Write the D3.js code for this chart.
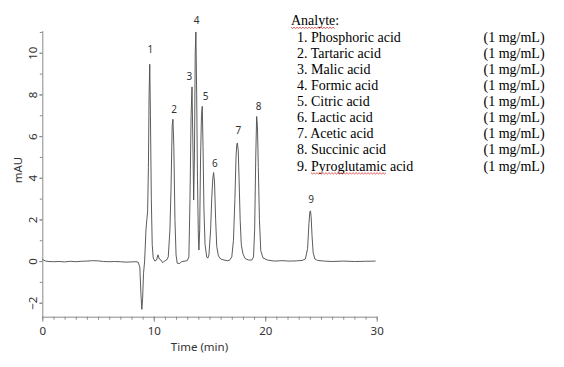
<!DOCTYPE html>
<html>
<head>
<meta charset="utf-8">
<script src="https://cdn.jsdelivr.net/npm/d3@7"></script>
<style>
  body { margin: 0; background: #fff; }
  svg { display: block; }
</style>
</head>
<body>
<div id="main"></div>
<script>
// chromatogram of 9 organic acids, trace

// trace: retention time (min) and response (mAU)
var traceTime = [0, 0.3, 0.6, 1, 1.5, 2, 2.5, 3, 3.5, 4, 4.5, 5, 5.5, 6, 6.5, 7, 7.5, 8, 8.4, 8.6,
  8.75, 8.85, 8.93, 9.0, 9.08, 9.18, 9.3, 9.38, 9.45, 9.52, 9.58, 9.64, 9.7, 9.78, 9.86, 9.95,
  10.1, 10.25, 10.38, 10.5, 10.65, 10.8, 10.95, 11.15, 11.3, 11.45, 11.55, 11.65, 11.72, 11.8, 11.9,
  12.0, 12.1, 12.3, 12.5, 12.8, 13.0, 13.15, 13.25, 13.35, 13.43, 13.5, 13.58, 13.65, 13.72, 13.78,
  13.85, 13.92, 14.0, 14.05, 14.12, 14.2, 14.28, 14.35, 14.42, 14.5, 14.6, 14.75, 14.85, 14.95,
  15.1, 15.2, 15.3, 15.37, 15.45, 15.55, 15.65, 15.8, 16.0, 16.3, 16.6, 16.8, 17.0, 17.15, 17.28,
  17.38, 17.45, 17.5, 17.58, 17.65, 17.75, 17.85, 18.0, 18.2, 18.5, 18.8, 18.95, 19.05, 19.15,
  19.23, 19.3, 19.38, 19.48, 19.6, 19.8, 20.2, 20.8, 21.5, 22.2, 22.8, 23.3, 23.6, 23.8, 23.92,
  24.0, 24.06, 24.12, 24.2, 24.3, 24.45, 24.7, 25.3, 26, 27, 28, 29, 29.9];
var traceMAU = [0.08, 0.0, -0.02, -0.03, -0.02, -0.04, -0.01, -0.03, -0.01, 0.0, 0.02, 0.01, -0.02, -0.03, -0.02, -0.03, -0.05, -0.04, -0.03, -0.05,
  -0.3, -1.6, -2.32, -1.8, -0.6, 0.0, 1.5, 2.0, 2.4, 4.5, 8.0, 9.45, 7.0, 3.0, 0.8, 0.15,
  0.0, 0.05, 0.3, 0.1, 0.05, -0.08, 0.0, 0.05, 0.2, 1.5, 3.5, 6.5, 6.81, 5.5, 2.0,
  0.3, -0.1, -0.12, -0.03, 0.0, 0.02, 0.2, 3.0, 7.0, 8.36, 6.0, 2.93, 5.0, 10.0, 11.0,
  8.0, 4.0, 1.2, 0.53, 1.5, 5.0, 7.0, 7.43, 5.5, 2.5, 0.8, 0.2, 0.14, 0.3,
  1.5, 3.0, 4.0, 4.25, 3.8, 2.0, 0.7, 0.25, 0.1, 0.05, 0.02, 0.04, 0.2, 1.0, 3.0,
  5.0, 5.6, 5.67, 5.3, 4.0, 2.0, 0.8, 0.35, 0.12, 0.05, 0.05, 0.2, 1.5, 5.0,
  6.94, 6.5, 4.5, 2.0, 0.5, 0.15, 0.05, 0.0, 0.02, 0.0, 0.01, 0.03, 0.1, 0.6, 1.8,
  2.35, 2.41, 2.1, 1.2, 0.4, 0.1, 0.03, 0.0, -0.02, 0.0, -0.02, -0.01, 0.0];

// peak apexes (number, time, height)
var peakNo = ['1', '2', '3', '4', '5', '6', '7', '8', '9'];
var peakTime = [9.64, 11.72, 13.43, 13.78, 14.35, 15.37, 17.5, 19.23, 24.06];
var peakMAU = [9.45, 6.81, 8.36, 11.0, 7.43, 4.25, 5.67, 6.94, 2.41];

// legend
var analytes = ['Phosphoric acid', 'Tartaric acid', 'Malic acid', 'Formic acid', 'Citric acid',
  'Lactic acid', 'Acetic acid', 'Succinic acid', 'Pyroglutamic acid'];
var conc = ['(1 mg/mL)', '(1 mg/mL)', '(1 mg/mL)', '(1 mg/mL)', '(1 mg/mL)',
  '(1 mg/mL)', '(1 mg/mL)', '(1 mg/mL)', '(1 mg/mL)'];

var xTicks = [0, 10, 20, 30],
    yTicks = [-2, 0, 2, 4, 6, 8, 10];

// layout
var width = 564, height = 367;
var axisCol = '#8a8a8a', textCol = '#333',
    chartFont = '"Noto Sans", "Open Sans", sans-serif',
    docFont = '"Liberation Serif", "Times New Roman", serif',
    tickSize = 11.5;

// nudges for the peak numbers, px (label sits above each apex)
var labelDx = [0.5, 1.3, -2.7, 0.7, 3.4, 1.3, 1, 2, 0.7],
    labelDy = [-15, -10, -10.5, -11.5, -10, -9.5, -13, -11, -11.5];

var svg = d3.select('#main').append('svg')
  .attr('width', width)
  .attr('height', height);

var x = d3.scaleLinear().domain([0, 30]).range([42.3, 376.7]);
var y = d3.scaleLinear().domain([-2.67, 11.07]).range([316.7, 30.5]);

// x axis
var xAxis = svg.append('g')
  .attr('transform', 'translate(0,' + y.range()[0] + ')');

xAxis.append('g')
  .call(d3.axisBottom(x).tickValues(d3.range(0, 31, 1)).tickSize(3).tickFormat(''))
  .call(function(g) { g.select('.domain').remove(); });

xAxis.append('g')
  .call(d3.axisBottom(x).tickValues(xTicks).tickSize(5).tickSizeOuter(0).tickPadding(5))
  .call(function(g) {
    g.selectAll('text').attr('font-size', tickSize).attr('font-family', chartFont).attr('fill', textCol);
  });

xAxis.selectAll('line, path').attr('stroke', axisCol);

// y axis
var yAxis = svg.append('g')
  .attr('transform', 'translate(' + x.range()[0] + ',0)');

yAxis.append('g')
  .call(d3.axisLeft(y).tickValues(d3.range(-2, 12, 1)).tickSize(2.5).tickFormat(''))
  .call(function(g) { g.select('.domain').remove(); });

yAxis.append('g')
  .call(d3.axisLeft(y).tickValues(yTicks).tickSize(3).tickSizeOuter(0).tickPadding(5)
    .tickFormat(function(d) { return d < 0 ? '\u2212' + (-d) : d; }))
  .call(function(g) {
    g.selectAll('text')
      .attr('font-size', tickSize).attr('font-family', chartFont).attr('fill', textCol)
      .attr('text-anchor', 'middle')
      .attr('x', null).attr('dy', null)
      .attr('transform', 'translate(-9.5,0) rotate(-90)')
      .attr('dominant-baseline', 'central');
  });

yAxis.selectAll('line, path').attr('stroke', axisCol);

// axis titles
svg.append('text')
  .attr('x', d3.mean(x.range()) - 10)
  .attr('y', 351)
  .attr('text-anchor', 'middle')
  .attr('font-size', tickSize).attr('font-family', chartFont).attr('fill', textCol)
  .text('Time (min)');

svg.append('text')
  .attr('transform', 'translate(22,' + 170 + ') rotate(-90)')
  .attr('text-anchor', 'middle')
  .attr('font-size', tickSize).attr('font-family', chartFont).attr('fill', textCol)
  .text('mAU');

// trace
var pts = d3.zip(traceTime, traceMAU);
svg.append('path')
  .datum(pts)
  .attr('fill', 'none')
  .attr('stroke', '#4a4a4a')
  .attr('stroke-width', 0.9)
  .attr('stroke-linejoin', 'round')
  .attr('d', d3.line().x(function(d) { return x(d[0]); }).y(function(d) { return y(d[1]); }));

// peak numbers
svg.selectAll('.peak')
  .data(peakNo)
  .enter().append('text')
  .attr('class', 'peak')
  .attr('x', function(d, i) { return x(peakTime[i]) + labelDx[i]; })
  .attr('y', function(d, i) { return y(peakMAU[i]) + labelDy[i]; })
  .attr('text-anchor', 'middle')
  .attr('dominant-baseline', 'central')
  .attr('font-size', 10).attr('font-family', chartFont).attr('fill', textCol)
  .text(function(d) { return d; });

// legend block, word-processor style
var legX = 291, rowX = 297, concX = 483.5, row0 = 41.7, rowH = 16.1;

var squiggle = function(x0, x1, yy) {
  var pts = [];
  for (var xx = x0, k = 0; xx <= x1; xx += 1.5, k++) pts.push([xx, yy + (k % 2 ? 1 : -0.3)]);
  svg.append('path')
    .attr('d', d3.line()(pts))
    .attr('fill', 'none').attr('stroke', '#e03030').attr('stroke-width', 0.8);
};

var head = svg.append('text')
  .attr('x', legX).attr('y', 25)
  .attr('font-size', 14).attr('font-family', docFont).attr('fill', '#000')
  .text('Analyte:');
squiggle(legX, legX + head.node().getSubStringLength(0, 7), 27.5);

var rows = svg.selectAll('.row')
  .data(analytes)
  .enter().append('text')
  .attr('class', 'row')
  .attr('x', rowX)
  .attr('y', function(d, i) { return row0 + i * rowH; })
  .attr('font-size', 14).attr('font-family', docFont).attr('fill', '#000')
  .text(function(d, i) { return (i + 1) + '. ' + d; });

svg.selectAll('.conc')
  .data(conc)
  .enter().append('text')
  .attr('class', 'conc')
  .attr('x', concX)
  .attr('y', function(d, i) { return row0 + i * rowH; })
  .attr('font-size', 14).attr('font-family', docFont).attr('fill', '#000')
  .text(function(d) { return d; });

// spell-check mark under "Pyroglutamic"
var last = rows.filter(function(d, i) { return i === 8; }).node();
var s = last.textContent, w0 = s.indexOf('Pyroglutamic');
squiggle(rowX + last.getSubStringLength(0, w0),
  rowX + last.getSubStringLength(0, w0 + 'Pyroglutamic'.length), row0 + 8 * rowH + 2.5);
</script>
</body>
</html>
